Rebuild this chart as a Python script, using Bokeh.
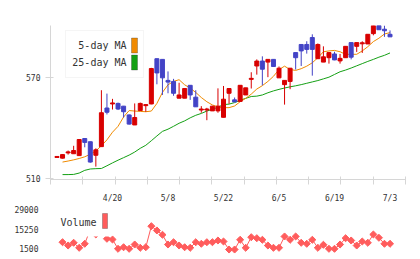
import math
from bokeh.plotting import figure
from bokeh.layouts import column
from bokeh.models import Range1d, FixedTicker, Label, BoxAnnotation, ColumnDataSource
from bokeh.embed import file_html
from bokeh.resources import INLINE

# ---- data ----
dates = ["4/6", "4/7", "4/8", "4/9", "4/10", "4/13", "4/14", "4/15", "4/16", "4/17",
         "4/20", "4/21", "4/22", "4/23", "4/24", "4/27", "4/28", "4/30", "5/1", "5/7",
         "5/8", "5/11", "5/12", "5/13", "5/14", "5/15", "5/18", "5/19", "5/20", "5/21",
         "5/22", "5/25", "5/26", "5/27", "5/28", "5/29", "6/1", "6/2", "6/3", "6/4",
         "6/5", "6/8", "6/9", "6/10", "6/11", "6/12", "6/15", "6/16", "6/17", "6/18",
         "6/19", "6/22", "6/23", "6/24", "6/25", "6/26", "6/29", "6/30", "7/1", "7/2", "7/3"]
tick_dates = ["4/20", "5/8", "5/22", "6/5", "6/19", "7/3"]

opens = [522.6, 522.2, 525.3, 524.8, 523.7, 533.8, 531.9, 523.9, 529.0, 551.8,
         554.2, 554.5, 552.9, 547.7, 541.8, 550.3, 553.2, 554.2, 580.9, 580.5,
         568.1, 567.5, 557.6, 557.6, 565.2, 558.2, 550.6, 550.6, 550.1, 550.1,
         546.3, 560.5, 556.6, 555.7, 559.5, 568.7, 576.6, 579.5, 578.9, 580.5,
         569.6, 565.6, 567.5, 584.5, 589.3, 589.3, 593.4, 580.9, 578.9, 581.5,
         583.7, 579.6, 581.5, 590.4, 588.2, 589.7, 589.6, 595.7, 600.5, 598.3, 595.3]
highs = [523.2, 524.5, 526.7, 529.5, 533.2, 533.8, 532.0, 528.0, 562.3, 560.3,
         557.2, 555.0, 553.0, 548.0, 554.5, 555.0, 554.0, 575.5, 581.0, 580.5,
         573.4, 569.0, 566.7, 563.3, 565.2, 562.3, 552.9, 551.9, 552.9, 563.4,
         564.8, 563.3, 558.0, 565.2, 563.7, 572.9, 580.5, 582.3, 580.5, 580.5,
         576.3, 568.1, 575.3, 584.5, 589.3, 591.2, 595.3, 589.9, 588.2, 584.5,
         585.0, 583.7, 588.2, 590.4, 590.4, 591.2, 595.3, 600.4, 600.5, 600.5, 597.6]
lows = [522.6, 522.0, 524.3, 524.8, 523.7, 528.6, 519.5, 517.2, 529.0, 548.0,
        550.9, 550.6, 546.2, 542.0, 541.8, 550.0, 549.5, 554.0, 565.8, 559.5,
        560.5, 559.0, 557.6, 557.6, 556.6, 552.5, 549.0, 544.6, 550.1, 549.0,
        546.3, 554.3, 555.4, 555.7, 559.5, 563.3, 571.5, 565.2, 570.0, 576.3,
        569.6, 553.8, 562.9, 574.5, 576.6, 583.9, 570.9, 580.9, 578.9, 578.0,
        580.0, 578.0, 581.5, 580.5, 584.9, 584.3, 589.6, 594.7, 598.0, 593.8, 593.8]
closes = [523.2, 524.3, 525.9, 526.7, 533.2, 531.5, 519.9, 527.1, 549.0, 549.3,
          554.8, 551.2, 549.6, 542.3, 546.2, 554.5, 553.8, 575.1, 572.5, 569.6,
          567.1, 560.5, 559.5, 563.3, 559.5, 552.5, 551.2, 551.2, 552.9, 552.9,
          557.0, 563.3, 555.4, 565.2, 563.7, 569.3, 579.5, 574.7, 580.5, 576.3,
          575.3, 568.1, 575.3, 581.5, 585.5, 586.4, 586.4, 589.3, 582.0, 584.5,
          580.2, 581.1, 588.2, 581.8, 590.4, 590.3, 595.3, 600.4, 598.0, 597.4, 593.8]
ma5 = [None, 519.9, 520.5, 521.2, 522.0, 523.0, 524.5, 526.5, 529.5, 533.0,
       537.5, 541.0, 546.5, 550.3, 550.0, 549.8, 549.6, 550.0, 554.5, 561.0,
       565.5, 567.5, 568.5, 565.5, 563.5, 561.0, 558.0, 555.5, 553.6, 552.5,
       552.0, 552.0, 553.0, 555.5, 557.5, 560.0, 563.0, 565.0, 567.5, 570.5,
       574.5, 576.5, 574.5, 574.0, 575.0, 576.5, 578.5, 581.5, 585.0, 585.5,
       585.8, 585.0, 583.5, 583.5, 583.5, 585.5, 588.0, 591.0, 593.0, 595.5, 596.3]
ma25 = [None, 512.5, 512.5, 512.6, 513.4, 515.0, 515.8, 516.0, 516.1, 517.7,
        519.4, 521.0, 522.5, 524.0, 525.8, 528.0, 529.8, 532.5, 535.3, 538.0,
        539.3, 541.0, 542.8, 544.2, 546.0, 547.5, 548.6, 550.0, 551.0, 552.3,
        553.8, 554.1, 555.0, 556.4, 557.5, 558.6, 558.8, 559.5, 560.8, 561.9,
        562.8, 563.6, 564.3, 564.9, 565.6, 566.4, 567.2, 568.0, 569.0, 570.0,
        571.6, 573.2, 574.2, 575.4, 576.7, 578.0, 579.3, 580.5, 581.8, 582.9, 584.3]
volume = [None, 6100, 3800, 5700, 2200, 5000, 15000, 11500, 20000, 8500,
          8000, 1500, 2600, 1500, 4500, 2200, 2600, 17300, 14300, 11300,
          4500, 6100, 3800, 2600, 2200, 6100, 5000, 6100, 6100, 7300,
          6600, 1000, 1000, 7800, 2200, 9600, 8900, 7800, 3800, 2200,
          2200, 10100, 7800, 10100, 5700, 5000, 7800, 2200, 4300, 1500,
          1500, 4500, 8900, 7300, 3800, 6600, 5700, 11500, 9200, 5000, 5000]
price_ticks = [510, 570]
volume_ticks = [1500, 15250, 29000]

RED = "#d80000"
BLUE = "#4343c6"
ORANGE = "#f08a00"
GREEN = "#14a014"
VCOL = "#ff5c5c"
AXIS = "#d6d6d6"
TXT = "#333333"
MONO = "DejaVu Sans Mono"

n = len(dates)
xs = list(range(n))
nanify = lambda a: [float("nan") if v is None else v for v in a]
cols = [RED if c >= o else BLUE for o, c in zip(opens, closes)]
src = ColumnDataSource(dict(
    x=xs, top=[max(o, c) for o, c in zip(opens, closes)],
    bottom=[min(o, c) for o, c in zip(opens, closes)],
    high=highs, low=lows, color=cols))

x0, x1 = -1.17, 62.79
p = figure(width=420, height=205, x_range=Range1d(x0, x1), y_range=Range1d(509.6, 600.5),
           output_backend="svg", toolbar_location=None,
           min_border_left=50, min_border_right=15, min_border_top=25, min_border_bottom=21)
p.outline_line_color = None
p.grid.visible = False
p.background_fill_color = "white"

p.line(xs, nanify(ma25), color=GREEN, line_width=1)
p.line(xs, nanify(ma5), color=ORANGE, line_width=1)
p.segment(x0="x", y0="high", x1="x", y1="low", color="color", line_width=1, source=src)
p.vbar(x="x", width=0.72, top="top", bottom="bottom", fill_color="color",
       line_color="color", line_width=1, source=src)

label_idx = [dates.index(d) for d in tick_dates]
minor = [x0 + (x1 - x0) * k / 11 for k in range(12)]
minor[0] += 0.001
minor[-1] -= 0.001
xa = p.xaxis[0]
xa.ticker = FixedTicker(ticks=label_idx, minor_ticks=minor)
xa.major_label_overrides = {i: dates[i] for i in label_idx}
xa.axis_line_color = AXIS
xa.major_tick_line_color = None
xa.minor_tick_line_color = AXIS
xa.minor_tick_in = 3
xa.minor_tick_out = 5
xa.major_tick_in = 0
xa.major_tick_out = 0
xa.major_label_standoff = 9
xa.major_label_text_font = MONO
xa.major_label_text_font_size = "8px"
xa.major_label_text_color = TXT

ya = p.yaxis[0]
ya.ticker = FixedTicker(ticks=price_ticks, minor_ticks=[])
ya.axis_line_color = AXIS
ya.major_tick_line_color = AXIS
ya.major_tick_in = 3
ya.major_tick_out = 5
ya.major_label_standoff = 5
ya.major_label_text_font = MONO
ya.major_label_text_font_size = "8px"
ya.major_label_text_color = TXT
ya.major_label_orientation = "horizontal"

# header texts
p.add_layout(Label(x=8, y=12, x_units="canvas", y_units="canvas", text="2404 07/03 16:55 updated.",
                   text_font=MONO, text_font_size="10px", text_color=TXT, text_baseline="middle"))
p.add_layout(Label(x=413, y=12, x_units="canvas", y_units="canvas", text="(C)https://www.rizumu.net/",
                   text_font=MONO, text_font_size="10px", text_color=TXT, text_baseline="middle",
                   text_align="right"))

# legend (text then swatch)
p.add_layout(BoxAnnotation(left=65, right=143, top=30, bottom=77, left_units="canvas",
                           right_units="canvas", top_units="canvas", bottom_units="canvas",
                           fill_color="white", fill_alpha=1, line_color="#dddddd", line_width=1))
for txt, col, yc in [("5-day MA", ORANGE, 45), ("25-day MA", GREEN, 62)]:
    p.add_layout(Label(x=126, y=yc, x_units="canvas", y_units="canvas", text=txt, text_font=MONO,
                       text_font_size="10px", text_color=TXT, text_align="right", text_baseline="middle"))
    p.add_layout(BoxAnnotation(left=131, right=137, top=yc - 7.5, bottom=yc + 7.5, left_units="canvas",
                               right_units="canvas", top_units="canvas", bottom_units="canvas",
                               fill_color=col, fill_alpha=1, line_color="#333333", line_width=1))

# volume panel
v = figure(width=420, height=54, x_range=p.x_range, y_range=Range1d(-2478, 31722),
           output_backend="svg", toolbar_location=None, x_axis_location=None,
           min_border_left=50, min_border_right=15, min_border_top=0, min_border_bottom=5)
v.outline_line_color = None
v.grid.visible = False
vv = nanify(volume)
v.line(xs, vv, color=VCOL, line_width=1)
v.scatter(xs, vv, marker="square", angle=math.pi / 4, size=5, color=VCOL)
vy = v.yaxis[0]
vy.ticker = FixedTicker(ticks=volume_ticks, minor_ticks=[])
vy.axis_line_color = None
vy.major_tick_line_color = None
vy.major_label_standoff = 6
vy.major_label_text_font = MONO
vy.major_label_text_font_size = "8px"
vy.major_label_text_color = TXT
vy.major_label_orientation = "horizontal"

v.add_layout(BoxAnnotation(left=54, right=111, top=0, bottom=31, left_units="canvas",
                           right_units="canvas", top_units="canvas", bottom_units="canvas",
                           fill_color="white", fill_alpha=1, line_color=None))
v.add_layout(Label(x=96, y=17, x_units="canvas", y_units="canvas", text="Volume", text_font=MONO,
                   text_font_size="10px", text_color=TXT, text_align="right", text_baseline="middle"))
v.add_layout(BoxAnnotation(left=102, right=107, top=8, bottom=23, left_units="canvas",
                           right_units="canvas", top_units="canvas", bottom_units="canvas",
                           fill_color=VCOL, fill_alpha=1, line_color="#333333", line_width=1))

layout = column(p, v, spacing=0)
open("out.html", "w").write(file_html(layout, INLINE))
